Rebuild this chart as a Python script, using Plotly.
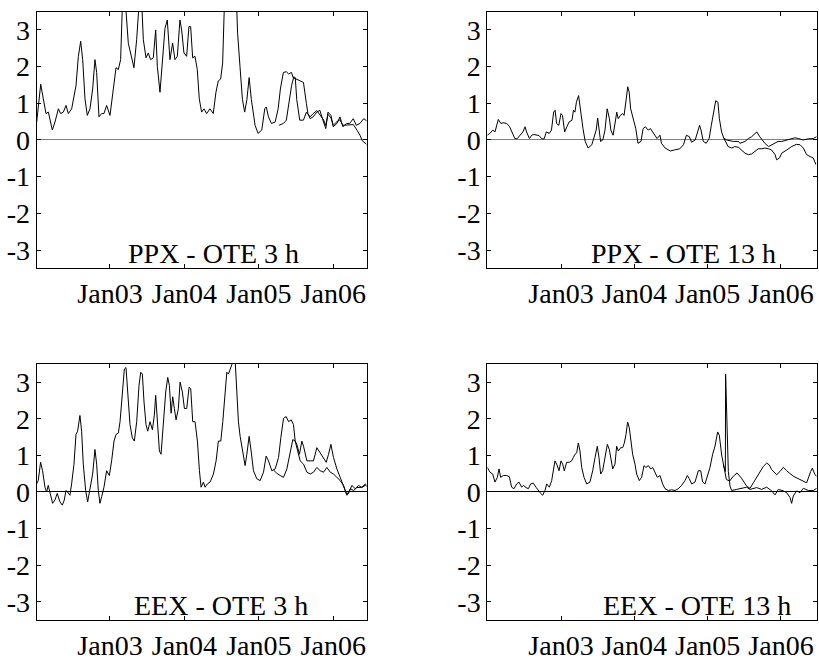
import plotly.graph_objects as go

# ---------------- data (decimal years, values) ----------------
# PPX - OTE 3 h
ppx3_a_x = [2002.015, 2002.069, 2002.104, 2002.140, 2002.172, 2002.225, 2002.261, 2002.306, 2002.337, 2002.373,
            2002.409, 2002.440, 2002.485, 2002.543, 2002.575, 2002.606, 2002.633, 2002.664, 2002.695, 2002.731,
            2002.767, 2002.798, 2002.821, 2002.852, 2002.888, 2002.919, 2002.955, 2003.000, 2003.045, 2003.081,
            2003.112, 2003.143, 2003.170, 2003.202, 2003.246, 2003.291, 2003.322, 2003.358, 2003.394, 2003.425,
            2003.448, 2003.484, 2003.515, 2003.546, 2003.582, 2003.614, 2003.636, 2003.672, 2003.703, 2003.739,
            2003.770, 2003.806, 2003.842, 2003.873, 2003.905, 2003.940, 2003.963, 2003.994, 2004.030, 2004.061,
            2004.084, 2004.111, 2004.142, 2004.173, 2004.200, 2004.232, 2004.263, 2004.299, 2004.343, 2004.388,
            2004.424, 2004.455, 2004.487, 2004.514, 2004.545, 2004.620, 2004.693, 2004.715, 2004.747, 2004.780,
            2004.810, 2004.840, 2004.870, 2004.900, 2004.950, 2004.990, 2005.040, 2005.080, 2005.100, 2005.130,
            2005.170, 2005.220, 2005.260, 2005.290, 2005.330, 2005.370, 2005.400, 2005.440, 2005.460, 2005.510,
            2005.550, 2005.600, 2005.640, 2005.660, 2005.690, 2005.730, 2005.780, 2005.820, 2005.870, 2005.900,
            2005.930, 2005.970, 2006.000, 2006.050, 2006.090, 2006.130, 2006.180, 2006.220, 2006.270, 2006.310,
            2006.360, 2006.410, 2006.450]
ppx3_a_y = [0.49, 1.52, 1.12, 0.72, 0.76, 0.27, 0.49, 0.85, 0.72, 0.76,
            0.94, 0.72, 0.85, 1.48, 2.28, 2.69, 2.19, 1.12, 0.67, 0.85,
            1.39, 2.19, 1.84, 0.63, 0.72, 0.72, 0.94, 0.67, 1.39, 1.97,
            1.92, 2.19, 3.90, 3.90, 2.64, 2.28, 1.97, 2.73, 3.80, 3.80,
            2.73, 2.24, 2.37, 2.19, 2.24, 3.00, 2.01, 1.30, 2.01, 3.04,
            3.27, 2.19, 2.64, 2.19, 2.28, 3.27, 3.00, 2.37, 2.28, 3.09,
            3.09, 2.24, 2.28, 1.92, 1.12, 0.76, 0.85, 0.72, 0.85, 0.72,
            1.30, 1.61, 1.66, 2.10, 4.20, 4.80, 4.20, 2.91, 2.01, 1.10,
            0.76, 1.10, 1.70, 1.10, 0.40, 0.18, 0.27, 0.85, 0.90, 0.63,
            0.45, 0.49, 0.85, 1.39, 1.84, 1.86, 1.80, 1.84, 1.70, 1.66,
            1.61, 1.57, 0.99, 0.72, 0.58, 0.63, 0.76, 0.81, 0.49, 0.31,
            0.76, 0.67, 0.36, 0.45, 0.63, 0.36, 0.45, 0.45, 0.58, 0.40,
            0.45, 0.58, 0.52]
ppx3_b_x = [2005.270, 2005.330, 2005.370, 2005.400, 2005.440, 2005.470, 2005.490, 2005.510, 2005.530, 2005.550,
            2005.600, 2005.640, 2005.690, 2005.730, 2005.780, 2005.820, 2005.870, 2005.900, 2005.930, 2005.970,
            2006.000, 2006.050, 2006.090, 2006.130, 2006.180, 2006.220, 2006.270, 2006.310, 2006.360, 2006.390,
            2006.420, 2006.450]
ppx3_b_y = [0.40, 0.45, 0.54, 0.94, 1.48, 1.72, 1.70, 1.10, 0.76, 0.54,
            0.54, 0.76, 0.63, 0.72, 0.80, 0.70, 0.55, 0.40, 0.70, 0.60,
            0.40, 0.50, 0.55, 0.40, 0.40, 0.40, 0.42, 0.30, 0.13, -0.02,
            -0.08, -0.12]

# PPX - OTE 13 h
ppx13_a_x = [2001.995, 2002.03, 2002.07, 2002.10, 2002.145, 2002.18, 2002.21, 2002.26, 2002.30, 2002.33,
             2002.37, 2002.40, 2002.44, 2002.48, 2002.51, 2002.53, 2002.57, 2002.60, 2002.63, 2002.67,
             2002.70, 2002.74, 2002.77, 2002.80, 2002.84, 2002.87, 2002.90, 2002.92, 2002.94, 2002.97,
             2003.00, 2003.02, 2003.05, 2003.08, 2003.11, 2003.15, 2003.17, 2003.19, 2003.21, 2003.24,
             2003.26, 2003.30, 2003.33, 2003.37, 2003.42, 2003.45, 2003.48, 2003.50, 2003.52, 2003.54,
             2003.57, 2003.60, 2003.63, 2003.66, 2003.68, 2003.71, 2003.74, 2003.76, 2003.78, 2003.81,
             2003.84, 2003.86, 2003.89, 2003.91, 2003.93, 2003.95, 2003.99, 2004.02, 2004.05, 2004.09,
             2004.12, 2004.15, 2004.19, 2004.22, 2004.25, 2004.28, 2004.31, 2004.35, 2004.37, 2004.42,
             2004.49, 2004.55, 2004.62, 2004.67, 2004.71, 2004.75, 2004.78, 2004.83, 2004.86, 2004.89,
             2004.91, 2004.94, 2004.98, 2005.02, 2005.05, 2005.09, 2005.11, 2005.14, 2005.16, 2005.19,
             2005.22, 2005.26, 2005.35, 2005.42, 2005.44, 2005.51, 2005.555, 2005.60, 2005.67, 2005.71,
             2005.78, 2005.83, 2005.87, 2005.92, 2005.96, 2006.01, 2006.08, 2006.12, 2006.19, 2006.24,
             2006.30, 2006.37, 2006.44, 2006.487]
ppx13_a_y = [0.13, 0.18, 0.27, 0.22, 0.56, 0.45, 0.47, 0.45, 0.36, 0.22,
             0.04, 0.03, 0.13, 0.22, 0.36, 0.22, 0.04, 0.13, 0.15, 0.13,
             0.12, 0.03, 0.03, 0.22, 0.18, 0.27, 0.76, 0.81, 0.45, 0.40,
             0.72, 0.67, 0.22, 0.36, 0.49, 0.54, 0.81, 0.76, 1.03, 1.21,
             0.85, 0.31, -0.04, -0.22, -0.13, 0.04, 0.27, 0.60, 0.22, -0.04,
             0.00, 0.27, 0.85, 0.58, 0.27, 0.13, 0.49, 0.76, 0.58, 0.67,
             0.72, 0.67, 1.12, 1.45, 1.30, 0.85, 0.54, 0.31, -0.09, -0.04,
             0.31, 0.36, 0.27, 0.31, 0.22, 0.13, 0.04, 0.13, -0.09, -0.22,
             -0.30, -0.27, -0.24, -0.13, 0.13, 0.09, -0.06, 0.00, 0.22, 0.40,
             0.27, -0.04, -0.09, 0.04, 0.40, 0.85, 1.07, 1.03, 0.58, 0.22,
             0.05, 0.00, -0.04, -0.04, -0.09, -0.04, 0.04, 0.09, 0.22, 0.09,
             -0.09, -0.18, -0.13, -0.09, -0.04, -0.04, 0.00, 0.04, 0.06, 0.04,
             0.00, 0.03, 0.04, 0.09]
ppx13_b_x = [2005.22, 2005.24, 2005.28, 2005.33, 2005.37, 2005.42, 2005.46, 2005.51, 2005.555, 2005.60,
             2005.645, 2005.69, 2005.74, 2005.78, 2005.83, 2005.87, 2005.92, 2005.94, 2005.98, 2006.01,
             2006.08, 2006.145, 2006.21, 2006.26, 2006.305, 2006.35, 2006.395, 2006.44, 2006.477]
ppx13_b_y = [0.05, -0.04, -0.18, -0.22, -0.18, -0.20, -0.27, -0.36, -0.40, -0.38,
             -0.31, -0.24, -0.24, -0.22, -0.24, -0.27, -0.40, -0.54, -0.49, -0.36,
             -0.27, -0.18, -0.12, -0.13, -0.22, -0.40, -0.45, -0.49, -0.67]

# EEX - OTE 3 h
eex3_a_x = [2002.013, 2002.036, 2002.067, 2002.094, 2002.126, 2002.148, 2002.170, 2002.193, 2002.229, 2002.260,
            2002.291, 2002.327, 2002.359, 2002.386, 2002.408, 2002.430, 2002.462, 2002.484, 2002.516, 2002.543,
            2002.565, 2002.596, 2002.619, 2002.641, 2002.673, 2002.700, 2002.731, 2002.767, 2002.798, 2002.821,
            2002.843, 2002.865, 2002.888, 2002.919, 2002.955, 2002.991, 2003.022, 2003.054, 2003.081, 2003.112,
            2003.135, 2003.170, 2003.193, 2003.215, 2003.238, 2003.269, 2003.300, 2003.327, 2003.359, 2003.390,
            2003.413, 2003.435, 2003.457, 2003.484, 2003.507, 2003.538, 2003.570, 2003.596, 2003.614, 2003.637,
            2003.664, 2003.686, 2003.717, 2003.749, 2003.776, 2003.798, 2003.821, 2003.843, 2003.865, 2003.888,
            2003.919, 2003.942, 2003.973, 2004.000, 2004.031, 2004.063, 2004.085, 2004.112, 2004.143, 2004.175,
            2004.202, 2004.224, 2004.256, 2004.278, 2004.309, 2004.345, 2004.390, 2004.426, 2004.457, 2004.489,
            2004.516, 2004.547, 2004.570, 2004.592, 2004.614, 2004.637, 2004.659, 2004.682, 2004.704, 2004.726,
            2004.749, 2004.794, 2004.816, 2004.839, 2004.870, 2004.897, 2004.928, 2004.973, 2005.018, 2005.063,
            2005.099, 2005.130, 2005.175, 2005.220, 2005.265, 2005.296, 2005.332, 2005.368, 2005.400, 2005.435,
            2005.466, 2005.489, 2005.511, 2005.547, 2005.578, 2005.601, 2005.646, 2005.690, 2005.735, 2005.780,
            2005.825, 2005.870, 2005.906, 2005.937, 2005.969, 2006.004, 2006.049, 2006.094, 2006.139, 2006.175,
            2006.206, 2006.251, 2006.296, 2006.341, 2006.385, 2006.430, 2006.450]
eex3_a_y = [0.22, 0.31, 0.81, 0.58, 0.13, 0.00, 0.18, 0.00, -0.31, -0.22,
            -0.04, -0.27, -0.36, -0.22, 0.04, 0.00, -0.09, 0.22, 0.76, 1.57,
            1.66, 2.09, 1.66, 0.76, 0.04, -0.27, 0.04, 0.49, 1.16, 0.76,
            0.04, -0.31, -0.13, 0.13, 0.58, 0.45, 0.85, 1.39, 1.57, 1.61,
            1.92, 2.73, 3.36, 3.40, 2.73, 1.84, 1.48, 1.39, 1.92, 2.91,
            3.27, 3.22, 2.46, 1.84, 1.66, 1.92, 1.70, 2.10, 2.64, 1.92,
            1.12, 1.03, 1.84, 2.73, 3.13, 2.91, 2.15, 2.60, 2.28, 1.97,
            2.28, 3.00, 2.73, 2.28, 2.28, 2.86, 2.82, 1.92, 1.92, 1.39,
            0.58, 0.13, 0.27, 0.13, 0.22, 0.27, 0.49, 0.85, 1.39, 1.39,
            1.92, 2.73, 3.27, 3.22, 3.36, 3.45, 3.60, 3.60, 2.91, 1.92,
            1.52, 1.03, 0.72, 1.03, 1.52, 1.12, 0.58, 0.36, 0.31, 0.54,
            0.98, 0.85, 0.58, 0.63, 0.94, 1.48, 2.01, 2.06, 1.92, 1.97,
            1.84, 1.39, 1.30, 1.03, 1.39, 1.25, 0.85, 0.85, 0.85, 1.21,
            1.07, 0.94, 0.81, 1.03, 1.30, 0.94, 0.63, 0.40, 0.18, -0.04,
            -0.04, 0.18, 0.09, 0.18, 0.12, 0.18, 0.15]
eex3_b_x = [2005.197, 2005.242, 2005.287, 2005.332, 2005.377, 2005.422, 2005.457, 2005.489, 2005.520, 2005.556,
            2005.601, 2005.646, 2005.690, 2005.735, 2005.780, 2005.825, 2005.870, 2005.915, 2005.960, 2006.004,
            2006.049, 2006.094, 2006.139, 2006.184, 2006.229, 2006.274, 2006.318, 2006.386, 2006.430, 2006.450]
eex3_b_y = [0.60, 0.51, 0.45, 0.40, 0.63, 1.03, 1.43, 1.39, 1.12, 0.85,
            0.76, 0.54, 0.49, 0.54, 0.67, 0.58, 0.54, 0.67, 0.54, 0.49,
            0.40, 0.31, 0.18, -0.09, 0.09, 0.04, 0.12, 0.13, 0.22, 0.18]

# EEX - OTE 13 h
eex13_a_x = [2001.995, 2002.032, 2002.068, 2002.100, 2002.132, 2002.155, 2002.177, 2002.214, 2002.259, 2002.295,
             2002.327, 2002.359, 2002.395, 2002.427, 2002.464, 2002.486, 2002.523, 2002.555, 2002.586, 2002.623,
             2002.659, 2002.691, 2002.723, 2002.750, 2002.782, 2002.805, 2002.841, 2002.873, 2002.895, 2002.918,
             2002.941, 2002.973, 2003.000, 2003.023, 2003.045, 2003.077, 2003.114, 2003.145, 2003.168, 2003.191,
             2003.214, 2003.236, 2003.259, 2003.282, 2003.314, 2003.350, 2003.395, 2003.432, 2003.464, 2003.495,
             2003.518, 2003.541, 2003.568, 2003.600, 2003.632, 2003.659, 2003.682, 2003.705, 2003.736, 2003.759,
             2003.782, 2003.814, 2003.841, 2003.864, 2003.886, 2003.909, 2003.932, 2003.950, 2003.977, 2004.009,
             2004.032, 2004.068, 2004.100, 2004.132, 2004.159, 2004.191, 2004.223, 2004.250, 2004.282, 2004.314,
             2004.350, 2004.386, 2004.418, 2004.464, 2004.509, 2004.555, 2004.600, 2004.645, 2004.691, 2004.723,
             2004.750, 2004.782, 2004.827, 2004.873, 2004.905, 2004.932, 2004.964, 2004.995, 2005.032, 2005.068,
             2005.100, 2005.136, 2005.159, 2005.191, 2005.214, 2005.255, 2005.300, 2005.350, 2005.400, 2005.460,
             2005.532, 2005.577, 2005.623, 2005.714, 2005.760, 2005.805, 2005.840, 2005.873, 2005.941, 2005.986,
             2006.032, 2006.077, 2006.168, 2006.259, 2006.350, 2006.405, 2006.427, 2006.464, 2006.487]
eex13_a_y = [0.67, 0.54, 0.49, 0.27, 0.40, 0.63, 0.40, 0.45, 0.45, 0.42,
             0.13, 0.09, 0.22, 0.27, 0.13, 0.18, 0.12, 0.09, 0.22, 0.24,
             0.13, 0.04, -0.04, -0.09, 0.04, 0.22, 0.13, 0.31, 0.58, 0.85,
             0.76, 0.58, 0.85, 0.76, 0.58, 0.81, 0.81, 0.85, 0.94, 1.03,
             1.07, 1.34, 1.12, 0.67, 0.40, 0.22, 0.27, 0.58, 0.94, 1.25,
             0.94, 0.49, 0.58, 0.94, 1.30, 1.16, 0.90, 0.63, 0.76, 1.25,
             1.12, 1.21, 1.21, 1.34, 1.57, 1.91, 1.75, 1.39, 1.03, 0.76,
             0.49, 0.31, 0.40, 0.72, 0.67, 0.72, 0.63, 0.67, 0.54, 0.40,
             0.45, 0.22, 0.09, 0.04, 0.06, 0.04, 0.09, 0.18, 0.31, 0.45,
             0.36, 0.22, 0.27, 0.58, 0.58, 0.27, 0.22, 0.40, 0.67, 1.03,
             1.25, 1.64, 1.55, 1.01, 0.74, 0.34, 0.30, 0.43, 0.52, 0.38,
             0.16, 0.10, 0.25, 0.56, 0.70, 0.79, 0.74, 0.61, 0.47, 0.56,
             0.67, 0.58, 0.43, 0.34, 0.25, 0.56, 0.65, 0.47, 0.43]
eex13_b_x = [2005.214, 2005.241, 2005.245, 2005.259, 2005.282, 2005.305, 2005.327, 2005.395, 2005.464, 2005.532,
             2005.577, 2005.668, 2005.736, 2005.805, 2005.873, 2005.918, 2005.964, 2006.032, 2006.077, 2006.123,
             2006.145, 2006.168, 2006.214, 2006.259, 2006.305, 2006.373, 2006.441, 2006.487]
eex13_b_y = [0.74, 0.56, 3.22, 1.91, 0.56, 0.16, 0.04, 0.07, 0.10, 0.13,
             0.07, 0.12, 0.07, 0.13, 0.03, -0.08, 0.07, 0.03, -0.02, -0.15,
             -0.31, -0.11, 0.03, -0.02, 0.10, 0.04, 0.04, 0.10]

panel_titles = ["PPX - OTE 3 h", "PPX - OTE 13 h", "EEX - OTE 3 h", "EEX - OTE 13 h"]
x_tick_vals = [2003, 2004, 2005, 2006]
x_tick_text = ["Jan03", "Jan04", "Jan05", "Jan06"]
y_tick_vals = [-3, -2, -1, 0, 1, 2, 3]
y_tick_text = ["-3", "-2", "-1", "0", "1", "2", "3"]

# ---------------- figure ----------------
W, H = 819, 661
FONT = "Liberation Serif"
FS = 28

panels = [
    ("x", "y", [(ppx3_a_x, ppx3_a_y), (ppx3_b_x, ppx3_b_y)], [2002.015, 2006.45], (36.7, 366.7), (11.7, 271.7), "#808080", 0.537),
    ("x2", "y2", [(ppx13_a_x, ppx13_a_y), (ppx13_b_x, ppx13_b_y)], [2001.995, 2006.487], (487.3, 816.7), (11.7, 271.7), "#808080", 0.597),
    ("x3", "y3", [(eex3_a_x, eex3_a_y), (eex3_b_x, eex3_b_y)], [2002.015, 2006.45], (36.7, 366.7), (368.3, 627.7), "#000000", 0.558),
    ("x4", "y4", [(eex13_a_x, eex13_a_y), (eex13_b_x, eex13_b_y)], [2001.995, 2006.487], (487.3, 816.7), (368.3, 627.7), "#000000", 0.636),
]

fig = go.Figure()
layout = dict(
    width=W, height=H,
    margin=dict(l=0, r=0, t=0, b=0),
    paper_bgcolor="white", plot_bgcolor="white",
    showlegend=False,
    font=dict(family=FONT, size=FS, color="black"),
    annotations=[],
)

for i, (xa, ya, series, xr, xd, yd, zc, tx) in enumerate(panels):
    for sx, sy in series:
        fig.add_trace(go.Scatter(x=sx, y=sy, xaxis=xa, yaxis=ya, mode="lines",
                                 line=dict(color="black", width=1), hoverinfo="skip"))
    xkey = "xaxis" if xa == "x" else "xaxis" + xa[1:]
    ykey = "yaxis" if ya == "y" else "yaxis" + ya[1:]
    layout[xkey] = dict(
        domain=[xd[0] / W, xd[1] / W], anchor=ya, range=xr,
        tickvals=x_tick_vals, ticktext=x_tick_text,
        ticks="inside", ticklen=4, tickcolor="black",
        showline=True, linecolor="black", linewidth=1, mirror="allticks",
        showgrid=False, zeroline=False,
        tickfont=dict(family=FONT, size=FS, color="black"),
    )
    layout[ykey] = dict(
        domain=[1 - yd[1] / H, 1 - yd[0] / H], anchor=xa, range=[-3.5, 3.5],
        tickvals=y_tick_vals, ticktext=y_tick_text,
        ticks="inside", ticklen=4, tickcolor="black",
        showline=True, linecolor="black", linewidth=1, mirror="allticks",
        showgrid=False, zeroline=True, zerolinecolor=zc, zerolinewidth=1,
        tickfont=dict(family=FONT, size=FS, color="black"),
    )
    xref = "x domain" if xa == "x" else xa + " domain"
    yref = "y domain" if ya == "y" else ya + " domain"
    layout["annotations"].append(dict(
        text=panel_titles[i], xref=xref, yref=yref, x=tx, y=0.0, yshift=-3,
        xanchor="center", yanchor="bottom", showarrow=False,
        font=dict(family=FONT, size=FS, color="black"),
    ))

fig.update_layout(**layout)
fig.write_html("out.html")
